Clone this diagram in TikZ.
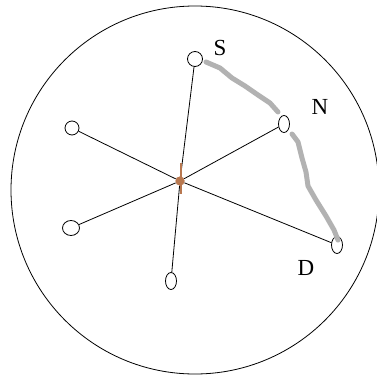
\documentclass[tikz,border=0pt]{standalone}
\usepackage{fontspec}
\setmainfont{Liberation Serif}
\usetikzlibrary{shapes.geometric}

\tikzset{
  endnode/.style={ellipse, draw=black, fill=white, line width=0.8pt, inner sep=0pt},
  spoke/.style={draw=black, line width=0.8pt},
  lbl/.style={font=\fontsize{23}{23}\selectfont, inner sep=0pt},
  route/.style={draw=black!30, line width=5pt, line cap=round, line join=round}
}

\begin{document}
\begin{tikzpicture}[x=1pt, y=-1pt]
    \definecolor{hubColour}{HTML}{B87850}
    \useasboundingbox (0,0) rectangle (377,380);

    % Outer circle
    \draw[line width=0.8pt] (195,190) circle (184);

    % Centre and end nodes
    \node[circle, fill=hubColour, inner sep=0pt, minimum size=9pt] (hub) at (180,181) {};
    \node[endnode, minimum width=15pt, minimum height=15pt] (S) at (195,59) {};
    \node[endnode, minimum width=11pt, minimum height=17pt] (N) at (284,124) {};
    \node[endnode, minimum width=11pt, minimum height=17pt] (D) at (337,245) {};
    \node[endnode, minimum width=14pt, minimum height=14pt] (ul) at (72,128) {};
    \node[endnode, minimum width=17pt, minimum height=15pt] (ll) at (71,228) {};
    \node[endnode, minimum width=11pt, minimum height=17pt] (bot) at (171,281) {};

    % Spokes
    \foreach \n in {S,N,D,ul,ll,bot}
        \draw[spoke] (hub) -- (\n);
    \draw[hubColour, line width=1.2pt] (181,163) -- (181,194);
    \fill[hubColour] (hub) circle (4.5);

    % Route S -> N -> D
    \draw[route] (206,62) -- (220,68) -- (232,78) -- (245,86) -- (258,95) -- (270,103) -- (278,112);
    \draw[route] (292,134) -- (298,142) -- (302,158) -- (306,172) -- (308,186) -- (316,200) -- (326,216) -- (334,230) -- (338,240);

    % Labels
    \node[lbl] (Slbl) at (220,48) {S};
    \node[lbl] (Nlbl) at (320,107) {N};
    \node[lbl] (Dlbl) at (306,268) {D};
\end{tikzpicture}
\end{document}
